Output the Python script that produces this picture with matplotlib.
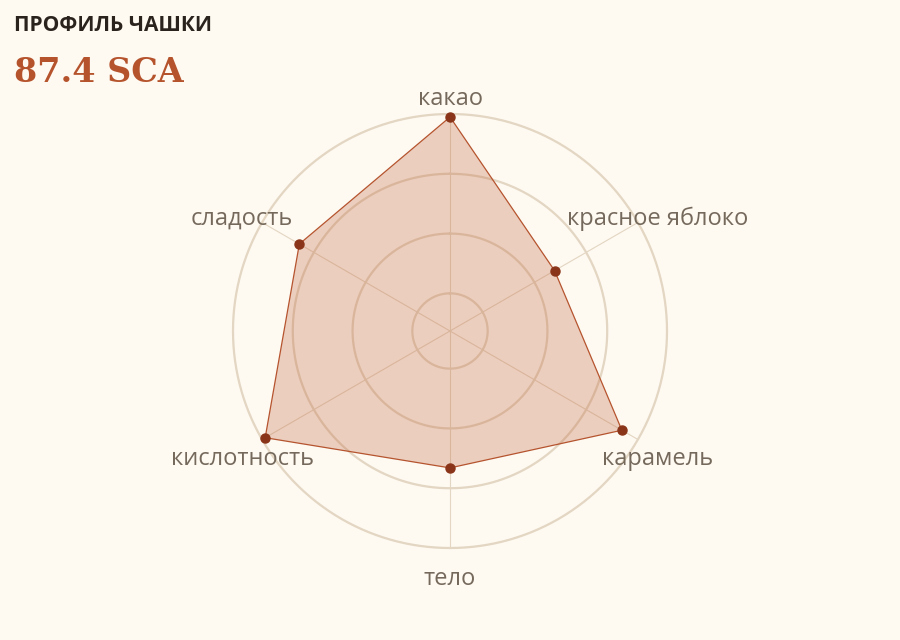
import matplotlib
matplotlib.use("Agg")
import matplotlib.pyplot as plt
import numpy as np

# data
attributes = ["какао", "красное яблоко", "карамель", "тело", "кислотность", "сладость"]
scores = [9.95, 8.39, 9.69, 8.66, 9.94, 9.28]
ring_levels = [7, 8, 9, 10]
r_min, r_max = 6.37, 10.0

title = "ПРОФИЛЬ ЧАШКИ"
total_score = "87.4 SCA"

BG = "#fef9f1"
RING = "#e3d6c2"
LINE = "#b5542e"
DOT = "#8a3519"
LABEL = "#75695c"


def main():
    fig = plt.figure(figsize=(9, 6.4), dpi=100, facecolor=BG)

    # polar axes centred at (450, 331) px with radius 217 px
    cx, cy, rad = 450 / 900, 1 - 331 / 640, 217
    w, h = rad / 900, rad / 640
    ax = fig.add_axes([cx - w, cy - h, 2 * w, 2 * h], projection="polar")
    ax.set_facecolor(BG)
    ax.set_theta_zero_location("N")
    ax.set_theta_direction(-1)
    ax.set_ylim(r_min, r_max)
    ax.grid(False)
    ax.spines["polar"].set_visible(False)
    ax.set_xticks([])
    ax.set_yticks([])

    n = len(attributes)
    angles = np.arange(n) * 2 * np.pi / n

    # rings and spokes
    t = np.linspace(0, 2 * np.pi, 361)
    for lv in ring_levels:
        ax.plot(t, np.full_like(t, lv), color=RING, lw=1.6, zorder=1, clip_on=False)
    for a in angles:
        ax.plot([a, a], [r_min, r_max], color=RING, lw=0.8, zorder=1, clip_on=False)

    # profile polygon
    ang_c = np.append(angles, angles[0])
    sc_c = np.append(scores, scores[0])
    ax.fill(ang_c, sc_c, color="#c0603a", alpha=0.28, lw=0, zorder=2)
    ax.plot(ang_c, sc_c, color=LINE, lw=0.9, zorder=3, clip_on=False)
    ax.plot(angles, scores, "o", color=DOT, ms=6.5, mec=DOT, zorder=4, clip_on=False)

    # axis labels, 240 px from centre
    r_lab = r_min + 240 / rad * (r_max - r_min)
    for a, name in zip(angles, attributes):
        ax.annotate(name, xy=(a, r_lab), xytext=(0, -8), textcoords="offset pixels",
                    ha="center", va="center", fontsize=17, color=LABEL,
                    family="Open Sans", annotation_clip=False)

    fig.text(14 / 900, 1 - 31 / 640, title, fontsize=15, fontweight="bold",
             family="Open Sans", color="#2a221d", va="baseline", ha="left")
    fig.text(14 / 900, 1 - 82 / 640, total_score, fontsize=24, fontweight="bold",
             family="DejaVu Serif", color="#b5532c", va="baseline", ha="left")

    fig.savefig("out.png", dpi=100, facecolor=BG)


if __name__ == "__main__":
    main()
